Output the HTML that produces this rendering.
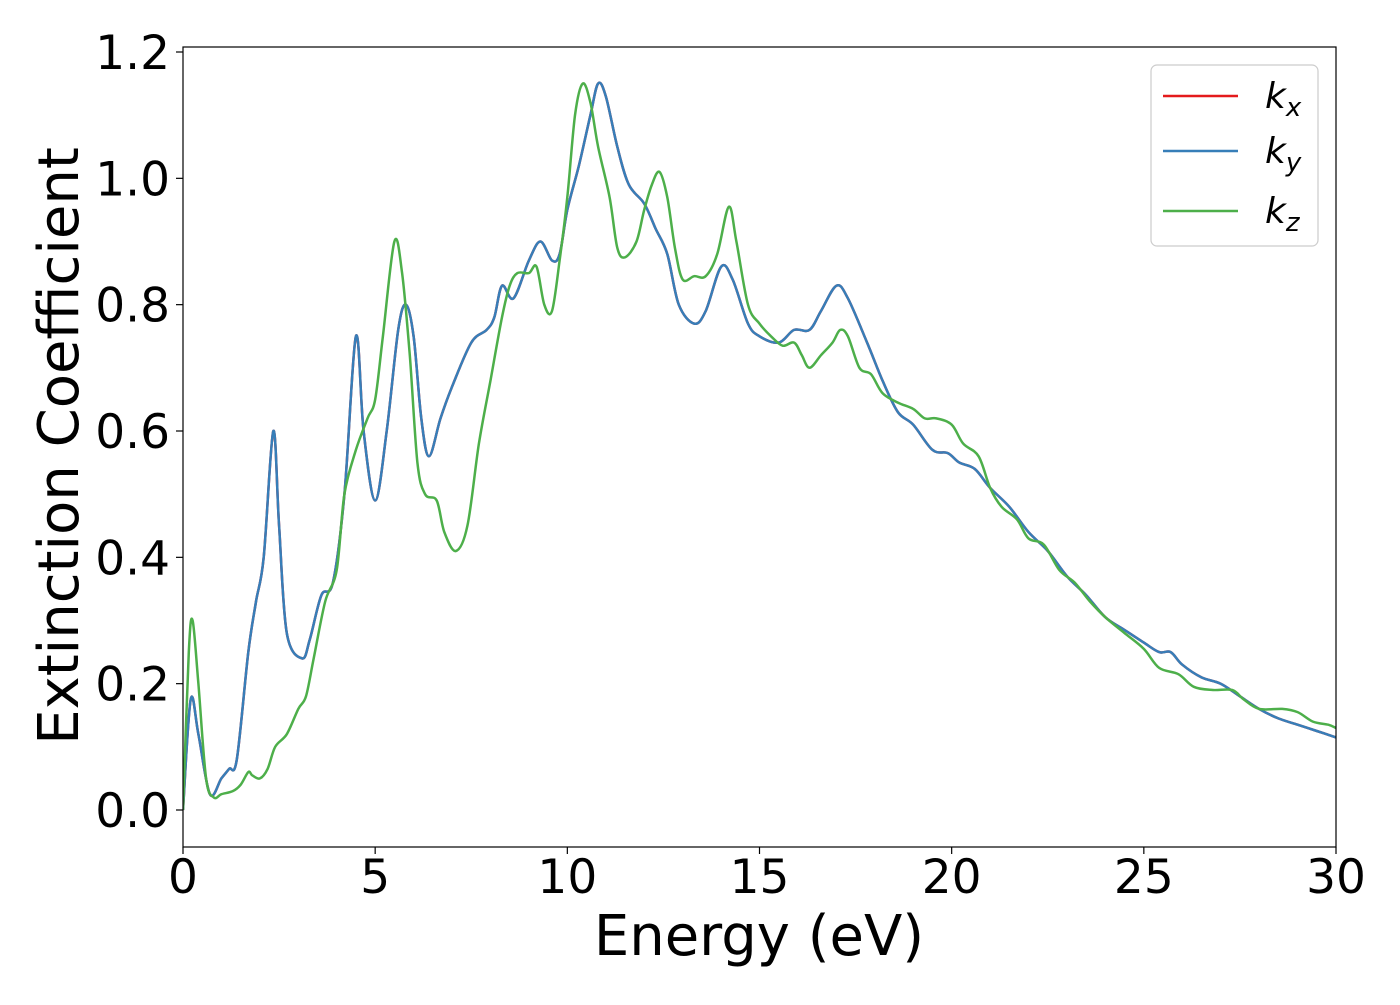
<!DOCTYPE html>
<html><head><meta charset="utf-8"><style>
body{margin:0;background:#fff;}
svg text{font-family:"DejaVu Sans","Liberation Sans",sans-serif;fill:#000;}
</style></head><body>
<svg id="chart" width="1400" height="1000" xmlns="http://www.w3.org/2000/svg">
<g id="plot"></g>
</svg>
<script>
const xTicks=[0,5,10,15,20,25,30];
const yTicks=[0.0,0.2,0.4,0.6,0.8,1.0,1.2];
const yTickLabels=["0.0","0.2","0.4","0.6","0.8","1.0","1.2"];
const kyX=[0,0.2,0.4,0.7,1.0,1.2,1.4,1.7,1.9,2.1,2.35,2.5,2.7,3.1,3.3,3.6,3.9,4.2,4.5,4.7,5.0,5.3,5.6,5.8,6.0,6.2,6.4,6.7,7.0,7.5,7.9,8.1,8.3,8.6,9.0,9.3,9.6,9.8,10.0,10.3,10.6,10.8,11.0,11.3,11.6,12.0,12.3,12.6,12.9,13.3,13.6,14.0,14.3,14.7,15.0,15.5,15.9,16.3,16.6,17.0,17.3,17.8,18.2,18.6,19.0,19.5,19.9,20.2,20.6,21.0,21.5,22.0,22.5,23.0,23.5,24.0,24.5,25.0,25.4,25.7,26.0,26.5,27.0,27.5,28.0,28.5,29.0,29.5,30];
const kyY=[0,0.175,0.12,0.025,0.05,0.065,0.08,0.25,0.33,0.4,0.6,0.45,0.28,0.24,0.27,0.34,0.36,0.5,0.75,0.6,0.49,0.6,0.76,0.8,0.75,0.62,0.56,0.62,0.67,0.74,0.76,0.78,0.83,0.81,0.87,0.9,0.87,0.88,0.95,1.02,1.1,1.15,1.13,1.05,0.99,0.96,0.92,0.88,0.8,0.77,0.79,0.86,0.84,0.77,0.75,0.74,0.76,0.76,0.79,0.83,0.81,0.74,0.68,0.63,0.61,0.57,0.565,0.55,0.54,0.51,0.48,0.44,0.41,0.37,0.34,0.305,0.285,0.265,0.25,0.25,0.23,0.21,0.2,0.18,0.16,0.145,0.135,0.125,0.115];
const kxY=kyY.slice();
const kzX=[0,0.15,0.25,0.4,0.6,0.8,1.0,1.3,1.5,1.7,1.8,2.0,2.2,2.4,2.7,3.0,3.2,3.4,3.7,4.0,4.2,4.5,4.8,5.0,5.2,5.5,5.7,5.9,6.1,6.3,6.6,6.8,7.1,7.4,7.7,8.0,8.3,8.5,8.7,9.0,9.2,9.4,9.6,9.8,10.0,10.2,10.4,10.6,10.8,11.1,11.3,11.5,11.8,12.0,12.2,12.4,12.6,12.8,13.0,13.3,13.6,13.9,14.2,14.4,14.7,15.0,15.3,15.6,15.9,16.1,16.3,16.6,16.9,17.1,17.3,17.6,17.9,18.2,18.6,19.0,19.3,19.6,20.0,20.3,20.7,21.0,21.3,21.7,22.0,22.4,22.8,23.2,23.6,24.0,24.5,25.0,25.4,25.9,26.3,26.8,27.3,27.6,28.0,28.6,29.0,29.4,29.8,30];
const kzY=[0,0.25,0.3,0.2,0.05,0.02,0.025,0.03,0.04,0.06,0.055,0.05,0.065,0.1,0.12,0.16,0.18,0.24,0.33,0.38,0.5,0.57,0.62,0.65,0.75,0.9,0.85,0.72,0.55,0.5,0.49,0.44,0.41,0.45,0.58,0.68,0.78,0.83,0.85,0.85,0.86,0.8,0.79,0.87,0.97,1.1,1.15,1.12,1.05,0.97,0.89,0.875,0.9,0.95,0.99,1.01,0.97,0.89,0.84,0.845,0.845,0.88,0.955,0.9,0.8,0.77,0.75,0.735,0.74,0.72,0.7,0.72,0.74,0.76,0.75,0.7,0.69,0.66,0.645,0.635,0.62,0.62,0.61,0.58,0.56,0.51,0.48,0.46,0.43,0.42,0.38,0.36,0.33,0.305,0.28,0.255,0.225,0.215,0.195,0.19,0.19,0.175,0.16,0.16,0.155,0.14,0.135,0.13];

const L=183,R=1336,T=47,B=847;
const sx=v=>L+(v-0)/30*(R-L);
const sy=v=>810-(v/1.2)*(810-52);
const NS="http://www.w3.org/2000/svg";
const svg=document.getElementById('chart');
function mk(tag,attrs,parent){const e=document.createElementNS(NS,tag);for(const k in attrs)e.setAttribute(k,attrs[k]);(parent||svg).appendChild(e);return e;}
function smooth(xs,ys){
  const p=xs.map((x,i)=>[sx(x),sy(ys[i])]);
  let d="M"+p[0][0].toFixed(1)+","+p[0][1].toFixed(1);
  for(let i=0;i<p.length-1;i++){
    const p0=p[i-1]||p[i],p1=p[i],p2=p[i+1],p3=p[i+2]||p2;
    const c1=[p1[0]+(p2[0]-p0[0])/6,p1[1]+(p2[1]-p0[1])/6];
    const c2=[p2[0]-(p3[0]-p1[0])/6,p2[1]-(p3[1]-p1[1])/6];
    d+=" C"+c1.map(v=>v.toFixed(1))+" "+c2.map(v=>v.toFixed(1))+" "+p2[0].toFixed(1)+","+p2[1].toFixed(1);
  }
  return d;
}
mk('clipPath',{id:'clip'}).appendChild(Object.assign(document.createElementNS(NS,'rect'),{}));
const cr=svg.querySelector('#clip rect');cr.setAttribute('x',L);cr.setAttribute('y',T);cr.setAttribute('width',R-L);cr.setAttribute('height',B-T);
const g=mk('g',{'clip-path':'url(#clip)'});


const series=[[kyX,kxY,'#e41a1c','kx-line'],[kyX,kyY,'#377eb8','ky-line'],[kzX,kzY,'#4daf4a','kz-line']];
series.forEach(s=>{const p=mk('path',{d:smooth(s[0],s[1]),fill:'none',stroke:s[2],'stroke-width':2.5,'stroke-linejoin':'round'},g);

});
const frame=mk('rect',{x:L,y:T,width:R-L,height:B-T,fill:'none',stroke:'#000','stroke-width':1.2});


xTicks.forEach(v=>{mk('line',{x1:sx(v),x2:sx(v),y1:B,y2:B+7,stroke:'#000','stroke-width':1.2});
const t=mk('text',{x:sx(v),y:893,'font-size':47,'text-anchor':'middle'});t.textContent=v;

});
yTicks.forEach((v,i)=>{mk('line',{x1:L-7,x2:L,y1:sy(v),y2:sy(v),stroke:'#000','stroke-width':1.2});
const t=mk('text',{x:170,y:sy(v)+17,'font-size':47,'text-anchor':'end'});t.textContent=yTickLabels[i];

});
const xl=mk('text',{x:759,y:955,'font-size':56,'text-anchor':'middle'});xl.textContent='Energy (eV)';


const yl=mk('text',{x:0,y:0,'font-size':56,'text-anchor':'middle',transform:'translate(78,446) rotate(-90)'});yl.textContent='Extinction Coefficient';


const lg=mk('g',{});


mk('rect',{x:1151,y:65,width:167,height:181,rx:6,fill:'#fff',stroke:'#ccc','stroke-width':1.2},lg);
[['x','#e41a1c',96],['y','#377eb8',151],['z','#4daf4a',211]].forEach(e=>{
 mk('line',{x1:1163,x2:1238,y1:e[2],y2:e[2],stroke:e[1],'stroke-width':2.5},lg);
 const t=mk('text',{x:1265,y:e[2]+12,'font-size':36,'font-style':'italic'},lg);
 
 
 t.innerHTML='k<tspan font-size="26" dy="8">'+e[0]+'</tspan>';
});
</script>
</body></html>
